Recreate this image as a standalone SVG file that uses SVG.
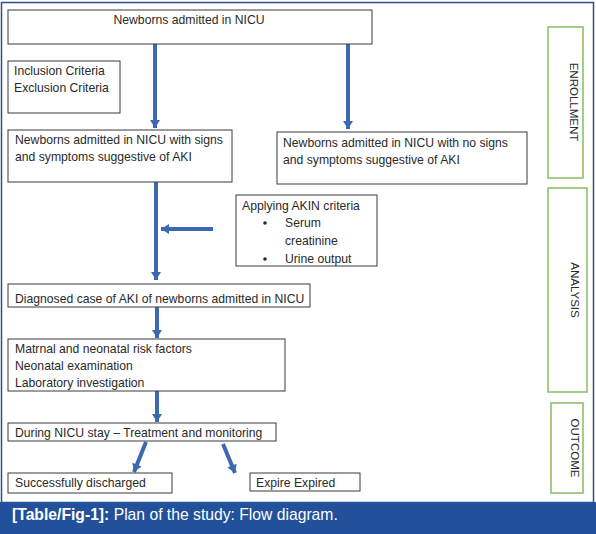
<svg xmlns="http://www.w3.org/2000/svg" width="596" height="534" viewBox="0 0 596 534">
<defs>
<style>
.box{fill:#fff;stroke:#3a3a3a;stroke-width:1}
.side{fill:#fff;stroke:#8dc26a;stroke-width:1.6}
.t{font-family:"Liberation Sans",Arial,sans-serif;font-size:12.2px;fill:#2a2a2a}
.st{font-family:"Liberation Sans",Arial,sans-serif;font-size:11.5px;fill:#2a2a2a}
.arr{stroke:#3d68b2;stroke-width:4;fill:none;marker-end:url(#ah)}
.cap{font-family:"Liberation Sans",Arial,sans-serif;font-size:15.7px;fill:#fff}
</style>
<marker id="ah" markerUnits="userSpaceOnUse" markerWidth="12" markerHeight="12" viewBox="0 0 12 12" refX="10" refY="6" orient="auto">
<path d="M2,1 L10,6 L2,11 Z" fill="#3d68b2"/>
</marker>
</defs>
<rect x="0" y="0" width="596" height="534" fill="#fff"/>
<rect x="1.5" y="2.5" width="592" height="500" fill="none" stroke="#2c4f8c" stroke-width="1.5"/>
<g id="connectors">
<line class="arr" x1="155" y1="44" x2="155" y2="128"/>
<line class="arr" x1="348" y1="44" x2="348" y2="129"/>
<line class="arr" x1="156" y1="182" x2="156" y2="280"/>
<line class="arr" x1="213" y1="229" x2="161" y2="229"/>
<line class="arr" x1="157" y1="307" x2="157" y2="338"/>
<line class="arr" x1="157" y1="391" x2="157" y2="422"/>
<line class="arr" x1="146" y1="442" x2="134" y2="472"/>
<line class="arr" x1="223" y1="444" x2="235" y2="473"/>
</g>
<g id="n-admitted"><rect class="box" x="8" y="10" width="364" height="34"/><text class="t" x="189" y="24" text-anchor="middle">Newborns admitted in NICU</text></g>
<g id="n-criteria"><rect class="box" x="8" y="61" width="112" height="52"/><text class="t" x="14" y="75">Inclusion Criteria</text><text class="t" x="14" y="92">Exclusion Criteria</text></g>
<g id="n-signs"><rect class="box" x="8" y="130" width="224" height="52"/><text class="t" x="15" y="144">Newborns admitted in NICU with signs</text><text class="t" x="15" y="161">and symptoms suggestive of AKI</text></g>
<g id="n-nosigns"><rect class="box" x="277" y="132" width="250" height="52"/><text class="t" x="283" y="147">Newborns admitted in NICU with no signs</text><text class="t" x="283" y="164">and symptoms suggestive of AKI</text></g>
<g id="n-akin"><rect class="box" x="236" y="195" width="141" height="71"/><text class="t" x="242" y="210">Applying AKIN criteria</text><circle cx="265" cy="223" r="1.8" fill="#2a2a2a"/><text class="t" x="285" y="227">Serum</text><text class="t" x="285" y="245">creatinine</text><circle cx="265" cy="259" r="1.8" fill="#2a2a2a"/><text class="t" x="285" y="263">Urine output</text></g>
<g id="n-diagnosed"><rect class="box" x="8" y="284" width="302" height="23"/><text class="t" x="15" y="303">Diagnosed case of AKI of newborns admitted in NICU</text></g>
<g id="n-risk"><rect class="box" x="8" y="339" width="277" height="52"/><text class="t" x="15" y="353">Matrnal and neonatal risk factors</text><text class="t" x="15" y="370">Neonatal examination</text><text class="t" x="15" y="387">Laboratory investigation</text></g>
<g id="n-stay"><rect class="box" x="8" y="423" width="268" height="18"/><text class="t" x="15" y="437">During NICU stay – Treatment and monitoring</text></g>
<g id="n-discharged"><rect class="box" x="8" y="473" width="164" height="20"/><text class="t" x="15" y="487">Successfully discharged</text></g>
<g id="n-expired"><rect class="box" x="250" y="473" width="110" height="18"/><text class="t" x="256" y="487">Expire Expired</text></g>
<g id="s-enrollment"><rect class="side" x="548" y="27" width="35" height="151"/><text class="st" transform="translate(566,102) rotate(90)" text-anchor="middle" dy="-4">ENROLLMENT</text></g>
<g id="s-analysis"><rect class="side" x="548" y="188" width="39" height="204"/><text class="st" transform="translate(567,290) rotate(90)" text-anchor="middle" dy="-4">ANALYSIS</text></g>
<g id="s-outcome"><rect class="side" x="551" y="403" width="32" height="90"/><text class="st" transform="translate(567,448) rotate(90)" text-anchor="middle" dy="-4">OUTCOME</text></g>
<rect x="0" y="502" width="596" height="32" fill="#22509a"/>
<text class="cap" x="12" y="520"><tspan font-weight="bold">[Table/Fig-1]:</tspan> Plan of the study: Flow diagram.</text>
</svg>
